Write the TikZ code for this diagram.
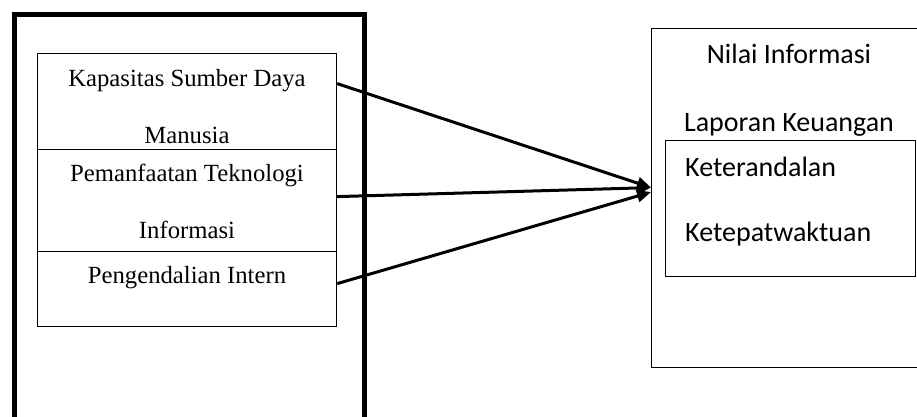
\documentclass[tikz,border=0pt]{standalone}
\usepackage{fontspec}
\setmainfont{Liberation Serif}
\newfontfamily\boxsans{Carlito}
\usetikzlibrary{arrows.meta}
\tikzset{
  thinbox/.style={draw, line width=1.2pt, inner sep=0pt, anchor=north west},
  thickbox/.style={draw, line width=4.5pt, inner sep=0pt, anchor=north west},
  seriftext/.style={inner sep=0pt, anchor=base, font=\fontsize{24.7}{28}\selectfont},
  sanstext/.style={inner sep=0pt, font=\boxsans\fontsize{28}{32}\selectfont},
  arr/.style={line width=3pt, -{Triangle[length=14pt,width=12pt]}}
}
\begin{document}
\begin{tikzpicture}[x=1pt,y=-1pt]
\useasboundingbox (0,0) rectangle (917,416);
\fill[white] (0,0) rectangle (917,416);
\clip (0,0) rectangle (917,416);
% left thick frame
\node[thickbox, minimum width=350pt, minimum height=440pt] (outer) at (12,12) {};
% inner boxes
\node[thinbox, minimum width=299pt, minimum height=96pt] (k) at (37,53) {};
\node[thinbox, minimum width=299pt, minimum height=102pt] (p) at (37,149) {};
\node[thinbox, minimum width=299pt, minimum height=75pt] (g) at (37,251) {};
\node[seriftext] (t1) at (187,86.5) {Kapasitas Sumber Daya};
\node[seriftext] (t2) at (187,143) {Manusia};
\node[seriftext] (t3) at (187,181) {Pemanfaatan Teknologi};
\node[seriftext] (t4) at (187,238) {Informasi};
\node[seriftext] (t5) at (187,283) {Pengendalian Intern};
% right boxes
\node[thinbox, minimum width=280pt, minimum height=339pt] (r) at (651,28) {};
\node[thinbox, minimum width=250pt, minimum height=136pt] (ri) at (665,140) {};
\node[sanstext, anchor=base] (n1) at (789,63) {Nilai Informasi};
\node[sanstext, anchor=base] (n2) at (789,131.5) {Laporan Keuangan};
\node[sanstext, anchor=base west] (n3) at (685,176) {Keterandalan};
\node[sanstext, anchor=base west] (n4) at (685,241.5) {Ketepatwaktuan};
% arrows
\coordinate (tgtA) at ([yshift=10.5pt]r.west);
\coordinate (tgtB) at ([yshift=6pt]r.west);
\draw[arr] ([yshift=18pt]k.east) -- (tgtA);
\draw[arr] ([yshift=4pt]p.east) -- (tgtA);
\draw[arr] ([yshift=5.5pt]g.east) -- (tgtB);
\end{tikzpicture}
\end{document}
